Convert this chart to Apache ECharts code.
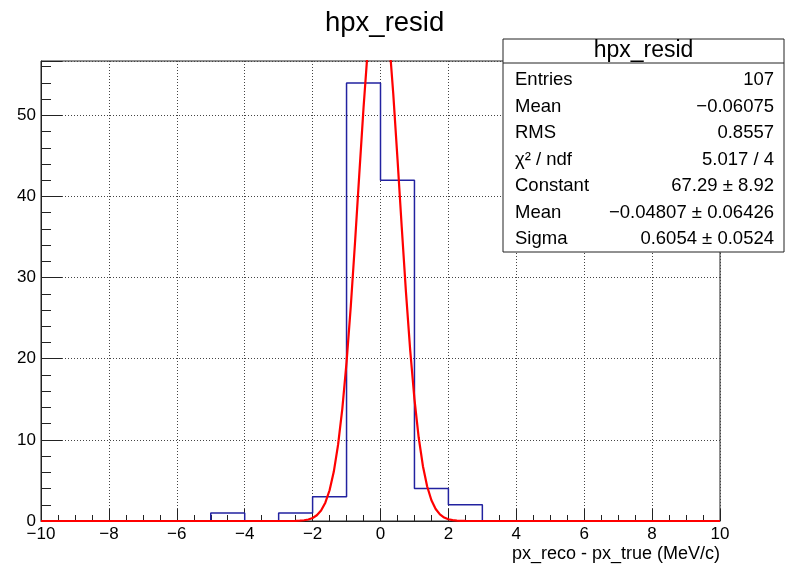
<!DOCTYPE html>
<html>
<head>
<meta charset="utf-8">
<script src="https://cdn.jsdelivr.net/npm/echarts@6/dist/echarts.min.js"></script>
<style>
  html, body { margin: 0; padding: 0; background: #fff; }
  #chart { width: 785px; height: 566px; }
</style>
</head>
<body>
<div id="chart"></div>
<script>
// histogram bins (low edges) and contents
var binLow = [-10, -9, -8, -7, -6, -5, -4, -3, -2, -1, 0, 1, 2, 3, 4, 5, 6, 7, 8, 9];
var counts = [0, 0, 0, 0, 0, 1, 0, 1, 3, 54, 42, 4, 2, 0, 0, 0, 0, 0, 0, 0];
var binHigh = 10;

// gaussian fit curve
var fitX = [-10, -2.5, -2.375, -2.25, -2.125, -2, -1.875, -1.75, -1.625, -1.5, -1.375, -1.25, -1.125,
  -1, -0.875, -0.75, -0.625, -0.5, -0.375, -0.25, -0.125, 0, 0.125, 0.25, 0.375, 0.5, 0.625,
  0.75, 0.875, 1, 1.125, 1.25, 1.375, 1.5, 1.625, 1.75, 1.875, 2, 2.125, 2.25, 2.375, 2.5, 10];
var fitY = [0, 0.02, 0.04, 0.09, 0.19, 0.37, 0.71, 1.29, 2.26, 3.79, 6.09, 9.38, 13.83,
  19.55, 26.47, 34.36, 42.73, 50.93, 58.16, 63.65, 66.75, 67.08, 64.60, 59.61, 52.71, 44.67, 36.27,
  28.22, 21.04, 15.03, 10.29, 6.76, 4.25, 2.56, 1.48, 0.82, 0.43, 0.22, 0.11, 0.05, 0.02, 0.01, 0];

// stats box
var statTitle = 'hpx_resid';
var statNames = ['Entries', 'Mean', 'RMS', 'χ² / ndf', 'Constant', 'Mean', 'Sigma'];
var statValues = ['107', '−0.06075', '0.8557', '5.017 / 4', '67.29 ± 8.92', '−0.04807 ± 0.06426', '0.6054 ± 0.0524'];

var xTicks = { min: -10, max: 10, step: 2 };
var yTicks = { min: 0, max: 56.7, step: 10, minorStep: 2 };

var font = "'Liberation Sans', Arial, Helvetica, sans-serif";
var minus = function (v) { return String(v).replace('-', '\u2212'); };

var histData = binLow.map(function (x, i) { return [x, counts[i]]; });
histData.push([binHigh, 0]);
var fitData = fitX.map(function (x, i) { return [x, fitY[i]]; });

// stats box graphics
var boxL = 503, boxT = 39, boxR = 784, boxB = 252;
var graphics = [
  { type: 'rect', shape: { x: boxL, y: boxT, width: boxR - boxL, height: boxB - boxT },
    style: { fill: '#fff', stroke: '#222', lineWidth: 1 }, z: 10 },
  { type: 'line', shape: { x1: boxL, y1: 63, x2: boxR, y2: 63 },
    style: { stroke: '#222', lineWidth: 1 }, z: 11 },
  { type: 'text', x: (boxL + boxR) / 2, y: 51, z: 11,
    style: { text: statTitle, font: '23px ' + font, fill: '#000', align: 'center', verticalAlign: 'middle' } }
];
statNames.forEach(function (n, i) {
  var y = 80 + i * 26.5;
  graphics.push({ type: 'text', x: 515, y: y, z: 11,
    style: { text: n, font: '18.5px ' + font, fill: '#000', align: 'left', verticalAlign: 'middle' } });
  graphics.push({ type: 'text', x: 774, y: y, z: 11,
    style: { text: statValues[i], font: '18.5px ' + font, fill: '#000', align: 'right', verticalAlign: 'middle' } });
});

var chart = echarts.init(document.getElementById('chart'));
chart.setOption({
  animation: false,
  textStyle: { fontFamily: font },
  title: {
    text: 'hpx_resid', left: 320, top: 4,
    textStyle: { fontSize: 27.5, fontWeight: 'normal', color: '#000', fontFamily: font }
  },
  grid: {
    left: 41, top: 61, right: 65, bottom: 45,
    show: true, borderColor: '#222', borderWidth: 1, backgroundColor: 'transparent'
  },
  xAxis: {
    type: 'value', min: xTicks.min, max: xTicks.max, interval: xTicks.step,
    name: 'px_reco - px_true (MeV/c)', nameLocation: 'end', nameGap: 0,
    nameTextStyle: { fontSize: 18, color: '#000', align: 'right', verticalAlign: 'top', padding: [24, 0, 0, 0] },
    axisLine: { onZero: false, lineStyle: { color: '#222', width: 1 } },
    axisTick: { inside: true, length: 12, lineStyle: { color: '#222' } },
    minorTick: { show: true, splitNumber: 4, length: 6, lineStyle: { color: '#222' } },
    axisLabel: { fontSize: 17, color: '#000', margin: 5, formatter: minus },
    splitLine: { show: true, lineStyle: { color: '#444', type: [1, 2], width: 1 } }
  },
  yAxis: [{
    type: 'value', position: 'left', min: yTicks.min, max: yTicks.max, interval: yTicks.step,
    axisLine: { show: true, onZero: false, lineStyle: { color: '#222', width: 1 } },
    axisTick: { show: true, inside: true, length: 21, lineStyle: { color: '#222' } },
    axisLabel: { fontSize: 17, color: '#000', margin: 5,
      formatter: function (v) { return v % yTicks.step === 0 ? minus(v) : ''; } },
    splitLine: { show: true, lineStyle: { color: '#444', type: [1, 2], width: 1 } }
  }, {
    type: 'value', position: 'left', min: yTicks.min, max: yTicks.max, interval: yTicks.minorStep,
    axisLine: { show: false, onZero: false },
    axisTick: { show: true, inside: true, length: 10, lineStyle: { color: '#222' } },
    axisLabel: { show: false },
    splitLine: { show: false }
  }],
  series: [{
    type: 'line', name: 'hist', data: histData, step: 'end',
    showSymbol: false, symbol: 'none',
    lineStyle: { color: '#2222a0', width: 1.5 }, z: 3
  }, {
    type: 'line', name: 'fit', data: fitData, smooth: false,
    showSymbol: false, symbol: 'none',
    lineStyle: { color: '#ff0000', width: 2.2 }, z: 4
  }],
  graphic: graphics
});
</script>
</body>
</html>
